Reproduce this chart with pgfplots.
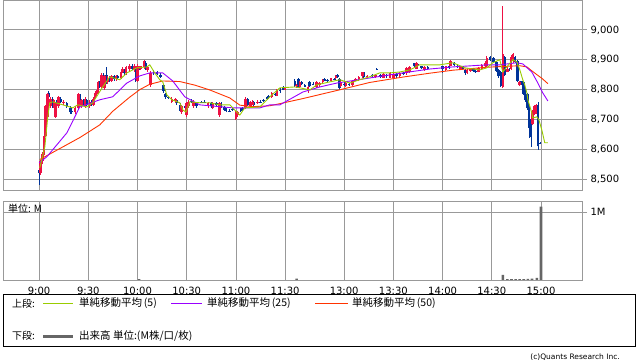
\documentclass[border=0pt]{standalone}
\usepackage{pgfplots}
\pgfplotsset{compat=1.18}
\usepackage{pgfplotstable}
\usepackage{fontspec}
\setmainfont{DejaVu Sans}
\newfontfamily\jp{Noto Sans CJK JP}
\definecolor{upc}{RGB}{238,17,68}
\definecolor{dnc}{RGB}{0,51,153}
\definecolor{ma5}{RGB}{153,204,0}
\definecolor{ma25}{RGB}{153,0,255}
\definecolor{ma50}{RGB}{255,51,0}
\definecolor{gridc}{RGB}{153,153,153}
\definecolor{volc}{RGB}{102,102,102}

% up (red) candles: t open high low close
\pgfplotstableread{
t o h l c
1 8520 8565 8515 8560
2 8560 8590 8550 8585
3 8585 8650 8580 8645
4 8645 8750 8640 8745
5 8710 8790 8705 8785
7 8745 8775 8740 8770
9 8745 8770 8740 8765
10 8710 8760 8705 8755
12 8745 8780 8740 8775
15 8755 8765 8750 8760
22 8725 8745 8720 8740
24 8740 8790 8735 8785
26 8745 8770 8740 8765
28 8745 8775 8740 8770
31 8745 8765 8740 8760
33 8750 8775 8745 8770
34 8768 8790 8765 8785
35 8785 8800 8780 8795
36 8795 8830 8790 8825
38 8810 8855 8805 8850
40 8805 8850 8800 8845
42 8825 8845 8820 8840
44 8830 8848 8825 8845
47 8835 8850 8830 8845
50 8840 8865 8835 8860
51 8860 8875 8855 8870
53 8855 8880 8850 8875
55 8870 8885 8860 8880
58 8870 8885 8860 8880
60 8830 8885 8825 8880
62 8870 8880 8866 8878
64 8875 8900 8870 8895
66 8865 8880 8860 8875
68 8815 8862 8810 8855
81 8760 8775 8755 8770
83 8762 8772 8755 8768
87 8725 8750 8720 8745
90 8715 8760 8710 8755
91 8745 8765 8740 8760
94 8745 8765 8740 8760
103 8745 8760 8740 8755
106 8740 8760 8735 8755
110 8715 8760 8710 8755
120 8700 8728 8698 8722
121 8715 8730 8710 8725
126 8738 8775 8735 8770
129 8745 8762 8740 8758
130 8750 8765 8748 8760
133 8755 8765 8752 8760
142 8775 8792 8772 8788
145 8780 8802 8778 8798
150 8800 8808 8798 8805
157 8812 8818 8805 8815
159 8810 8830 8805 8825
164 8802 8812 8790 8810
169 8810 8828 8805 8825
171 8815 8825 8810 8822
173 8825 8835 8820 8832
178 8830 8840 8825 8838
181 8838 8848 8835 8845
184 8812 8828 8808 8825
187 8812 8825 8810 8822
191 8815 8832 8812 8830
193 8830 8840 8828 8835
195 8832 8845 8830 8842
197 8845 8860 8840 8858
200 8842 8848 8838 8846
205 8842 8852 8840 8850
210 8840 8855 8838 8852
214 8840 8858 8838 8855
216 8838 8858 8836 8852
220 8845 8858 8842 8855
224 8855 8875 8850 8872
226 8858 8878 8855 8875
230 8870 8892 8868 8888
235 8866 8880 8864 8876
248 8866 8880 8864 8878
251 8880 8900 8878 8895
257 8870 8880 8866 8878
261 8856 8870 8852 8866
263 8862 8872 8860 8870
268 8860 8875 8858 8872
270 8868 8885 8866 8882
272 8878 8895 8875 8890
273 8880 8912 8876 8905
282.8 8810 9080 8805 8918
285.5 8860 8875 8858 8870
287.8 8870 8915 8865 8908
289 8895 8922 8890 8918
293 8815 8830 8812 8826
301 8685 8732 8680 8730
302 8718 8750 8715 8745
303 8722 8752 8720 8750
}\upcandles

% down (blue) candles: t open high low close
\pgfplotstableread{
t o h l c
0 8530 8535 8480 8520
6 8790 8795 8765 8775
8 8770 8775 8740 8745
11 8765 8775 8750 8755
13 8770 8775 8755 8760
17 8755 8758 8740 8745
19 8740 8745 8720 8725
20 8730 8732 8720 8726
25 8780 8785 8750 8755
27 8765 8770 8745 8750
29 8765 8770 8745 8750
32 8760 8765 8745 8750
37 8825 8830 8805 8810
39 8850 8855 8830 8835
41 8850 8875 8820 8825
43 8840 8845 8825 8830
46 8845 8850 8830 8835
48 8845 8850 8835 8840
52 8865 8870 8850 8855
57 8880 8885 8865 8870
59 8875 8880 8825 8830
61 8875 8880 8865 8870
65 8890 8895 8865 8870
70 8860 8865 8850 8855
72 8858 8862 8850 8852
74 8850 8855 8840 8842
76 8815 8818 8790 8795
77 8785 8790 8770 8775
79 8776 8778 8770 8772
84 8765 8768 8750 8755
86 8750 8755 8725 8730
89 8745 8750 8735 8740
93 8762 8768 8755 8758
96 8755 8758 8740 8745
99 8760 8762 8755 8757
101 8760 8765 8755 8757
105 8755 8758 8740 8745
108 8755 8760 8745 8748
111 8755 8760 8740 8745
113 8742 8745 8730 8732
114 8735 8740 8725 8728
116 8730 8735 8725 8727
118 8735 8738 8730 8732
123 8735 8740 8725 8730
124 8738 8742 8730 8732
127 8770 8772 8745 8750
131 8758 8762 8745 8750
135 8760 8765 8755 8757
137 8765 8770 8758 8762
139 8775 8778 8765 8768
140 8780 8782 8770 8775
144 8785 8790 8780 8782
147 8800 8805 8790 8795
149 8808 8812 8798 8800
156 8830 8835 8810 8812
158 8835 8840 8805 8810
160 8825 8830 8815 8818
162 8815 8818 8808 8810
165 8825 8828 8810 8812
167 8820 8825 8815 8818
174 8835 8840 8828 8830
176 8832 8835 8825 8828
180 8836 8838 8832 8834
182 8848 8852 8840 8842
183 8835 8838 8800 8805
186 8820 8825 8812 8815
189 8818 8822 8812 8815
198 8858 8860 8840 8842
203 8848 8852 8840 8845
206 8870 8872 8866 8868
208 8848 8852 8838 8842
212 8850 8853 8840 8845
218 8852 8856 8840 8845
222 8855 8860 8848 8852
225 8872 8875 8860 8862
229 8888 8890 8875 8878
231 8885 8888 8875 8878
233 8878 8880 8868 8872
237 8875 8878 8868 8870
246 8878 8880 8855 8868
250 8878 8880 8870 8872
253 8890 8892 8878 8882
255 8880 8885 8872 8875
258 8878 8880 8866 8868
260 8865 8868 8850 8855
265 8870 8872 8860 8862
266 8862 8868 8856 8858
275 8908 8912 8895 8898
277 8905 8908 8890 8892
279 8892 8895 8860 8862
280 8865 8870 8840 8845
281.5 8860 8862 8810 8812
284 8910 8912 8845 8850
286.5 8868 8872 8862 8865
290.2 8910 8912 8888 8892
291.8 8895 8898 8826 8830
294.2 8828 8830 8815 8818
295.3 8826 8828 8782 8785
296.3 8805 8808 8760 8765
297.6 8785 8788 8732 8738
298.8 8742 8745 8638 8672
300 8700 8722 8608 8640
304.2 8750 8760 8598 8610
305.5 8622 8625 8618 8620
}\dncandles

\pgfplotstableread{
t v
61 0.012
157 0.02
282.8 0.074
285.5 0.012
288 0.012
290.5 0.012
293 0.012
295.5 0.014
298 0.015
300.5 0.02
303.5 0.03
306 1.083
}\volume

\pgfplotsset{
  candle/.style={only marks, mark=*, mark options={draw opacity=0, fill opacity=0},
    error bars/.cd, y dir=plus, y explicit, error mark=none,
    error bar style={line width=#1}},
}

\begin{document}
\begin{tikzpicture}[x=1pt,y=1pt]
\path[use as bounding box] (0,0) rectangle (638,362);

\begin{axis}[
  at={(3pt,172pt)}, anchor=south west, scale only axis,
  width=579pt, height=190pt,
  xmin=-22, xmax=331, ymin=8464, ymax=9100,
  xtick={0,30,60,90,120,150,186,216,246,276,306}, xticklabels={},
  ytick={8500,8600,8700,8800,8900,9000},
  ytick pos=right, yticklabel pos=right,
  tick align=outside, major tick length=5pt,
  xtick style={draw=none},
  ytick style={gridc, line width=0.8pt},
  grid=major, grid style={gridc, line width=0.8pt},
  axis line style={gridc, line width=0.8pt},
  tick label style={font=\fontsize{10}{12}\selectfont},
  yticklabel style={/pgf/number format/1000 sep={,}},
  /pgf/number format/assume math mode=true,
]
\addplot[dnc, candle=1pt]
  table[x=t, y=l, y error plus expr=\thisrow{h}-\thisrow{l}] {\dncandles};
\addplot[dnc, candle=2.6pt]
  table[x=t, y=c, y error plus expr=\thisrow{o}-\thisrow{c}] {\dncandles};
\addplot[upc, candle=1pt]
  table[x=t, y=l, y error plus expr=\thisrow{h}-\thisrow{l}] {\upcandles};
\addplot[upc, candle=2.6pt]
  table[x=t, y=o, y error plus expr=\thisrow{c}-\thisrow{o}] {\upcandles};

% MA50
\addplot[ma50, line width=0.9pt, mark=none] coordinates {
(0.4,8566) (14.4,8608) (25,8640) (37,8682) (45,8728) (55.3,8775) (61.4,8800) (67.5,8818)
(75.4,8829) (85.8,8827) (95,8815) (104,8799) (116.3,8772) (122.4,8748) (130.3,8743)
(140.7,8746) (146.8,8753) (160.8,8770) (181.5,8797) (201.6,8824) (221.8,8842) (238.2,8855)
(252.3,8865) (273,8875) (293.1,8880) (297.4,8876) (299.2,8868) (303.5,8850) (306.5,8838) (310.2,8820)};
% MA25
\addplot[ma25, line width=0.9pt, mark=none] coordinates {
(0,8555) (4.7,8575) (16.9,8655) (24.8,8742) (37,8766) (44.9,8776) (53.5,8822) (61.4,8846)
(67.5,8856) (75.4,8856) (81.5,8829) (88.8,8776) (98,8749) (118.1,8739) (134.6,8739)
(140.7,8749) (146.8,8749) (160.8,8792) (171.2,8809) (181.5,8822) (201.6,8839) (221.8,8856)
(238.2,8869) (252.3,8876) (273,8883) (280.9,8883) (291.3,8890) (294.9,8886) (300.4,8859)
(304.1,8822) (307.1,8789) (310.2,8762)};
% MA5
\addplot[ma5, line width=0.9pt, mark=none] coordinates {
(0.4,8538) (3.5,8608) (5.3,8709) (6.5,8756) (8.4,8759) (14.5,8749) (20.5,8739) (23.6,8749)
(29,8742) (32.7,8756) (38.8,8809) (43.1,8843) (49.2,8833) (53.5,8856) (59.6,8873) (65.7,8876)
(67.5,8883) (70.5,8856) (73.6,8833) (75.4,8826) (77.9,8782) (80.9,8766) (85.8,8756) (87.6,8732)
(89.5,8725) (91.9,8759) (98,8756) (104,8756) (110.2,8749) (116.3,8749) (119.3,8732) (122.4,8715)
(125.4,8739) (134.6,8742) (140.7,8776) (146.8,8806) (156,8809) (159,8806) (165.1,8799)
(169.3,8816) (177.3,8826) (183.4,8833) (189.4,8822) (195.5,8833) (201.6,8843) (207.7,8856)
(213.8,8856) (219.9,8859) (226,8866) (232.1,8883) (238.2,8883) (244.3,8883) (252.3,8890)
(259.6,8873) (268.7,8866) (273,8873) (276.6,8890) (280.9,8900) (282.7,8859) (285.2,8876)
(288.8,8900) (291.3,8893) (293.1,8866) (294.9,8833) (296.1,8816) (297.4,8789) (298,8766)
(300.4,8722) (301,8705) (303.5,8709) (304.7,8699) (306.5,8665) (308.3,8622) (310.2,8622)};
\end{axis}

\begin{axis}[
  at={(3pt,82pt)}, anchor=south west, scale only axis,
  width=579pt, height=78.3pt,
  xmin=-22, xmax=331, ymin=0, ymax=1.1566,
  xtick={0,30,60,90,120,150,186,216,246,276,306},
  xticklabels={9:00,9:30,10:00,10:30,11:00,11:30,13:00,13:30,14:00,14:30,15:00},
  ytick={1}, yticklabels={1M},
  ytick pos=right, yticklabel pos=right,
  tick align=outside, major tick length=5pt,
  xtick style={draw=none},
  ytick style={gridc, line width=0.8pt},
  grid=major, grid style={gridc, line width=0.8pt},
  axis line style={gridc, line width=0.8pt},
  tick label style={font=\fontsize{10}{12}\selectfont},
  xticklabel style={yshift=1pt},
]
\addplot[ybar, bar width=2.6pt, fill=volc, draw=none] table[x=t, y=v] {\volume};
\end{axis}

\node[anchor=west, inner sep=0pt, font=\jp\fontsize{10}{12}\selectfont] at (8,153) {単位: M};

% legend box
\draw[black, line width=1pt] (3,16) rectangle (635,67);
\node[anchor=west, inner sep=0pt, font=\jp\fontsize{10}{12}\selectfont] at (12,58.7) {上段:};
\draw[ma5, line width=0.9pt] (43,58.7) -- (73,58.7);
\node[anchor=west, inner sep=0pt, font=\jp\fontsize{10.5}{12}\selectfont] at (79,58.7) {単純移動平均\,(5)};
\draw[ma25, line width=0.9pt] (171,58.7) -- (202,58.7);
\node[anchor=west, inner sep=0pt, font=\jp\fontsize{10.5}{12}\selectfont] at (207,58.7) {単純移動平均\,(25)};
\draw[ma50, line width=0.9pt] (315,58.7) -- (348,58.7);
\node[anchor=west, inner sep=0pt, font=\jp\fontsize{10.5}{12}\selectfont] at (352,58.7) {単純移動平均\,(50)};
\node[anchor=west, inner sep=0pt, font=\jp\fontsize{10}{12}\selectfont] at (12,26) {下段:};
\draw[volc, line width=3pt] (43,26) -- (73,26);
\node[anchor=west, inner sep=0pt, font=\jp\fontsize{10.5}{12}\selectfont] at (79,26) {出来高 単位:(M株/口/枚)};

\node[anchor=east, inner sep=0pt, font=\fontsize{7.5}{9}\selectfont] at (620,5) {(c)Quants Research Inc.};
\end{tikzpicture}
\end{document}
